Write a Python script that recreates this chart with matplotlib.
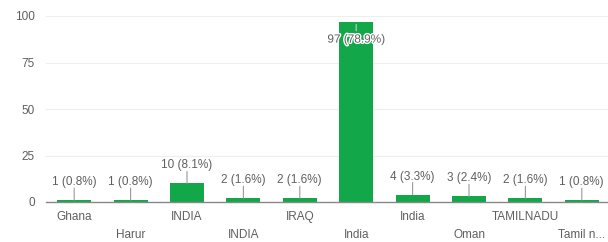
import matplotlib.pyplot as plt
import matplotlib.patheffects as pe

plt.rcParams["font.family"] = ["Liberation Sans", "DejaVu Sans"]

labels = ["Ghana", "Harur", "INDIA", "INDIA", "IRAQ", "India", "India", "Oman", "TAMILNADU", "Tamil n..."]
counts = [1, 1, 10, 2, 2, 97, 4, 3, 2, 1]
pcts = ["0.8%", "0.8%", "8.1%", "1.6%", "1.6%", "78.9%", "3.3%", "2.4%", "1.6%", "0.8%"]
yticks = [0, 25, 50, 75, 100]

green = "#12a84a"
text_c = "#5f5f5f"

fig = plt.figure(figsize=(6.08, 2.42), dpi=100)
ax = fig.add_axes([46 / 608, 1 - 202 / 242, 564 / 608, 186 / 242])

x = list(range(len(labels)))
ax.bar(x, counts, width=0.6, color=green, zorder=3)

ax.set_xlim(-0.5, len(labels) - 0.5)
ax.set_ylim(0, 100)
ax.set_yticks(yticks)
ax.set_yticklabels([str(t) for t in yticks], fontsize=8.5, color=text_c)
ax.grid(axis="y", color="#eeeeee", linewidth=0.8, zorder=0)
ax.set_xticks([])
for s in ["top", "right", "left"]:
    ax.spines[s].set_visible(False)
ax.spines["bottom"].set_color("#888888")
ax.spines["bottom"].set_linewidth(1.0)
ax.spines["bottom"].set_zorder(4)
ax.tick_params(axis="y", length=0, pad=8)

# category labels, staggered in two rows
for i, lab in enumerate(labels):
    dy = -15 if i % 2 == 0 else -33
    ax.annotate(lab, (i, 0), xytext=(0, dy), textcoords="offset pixels",
                ha="center", va="center", fontsize=8.5, color=text_c)

# value labels with leader lines
for i, (c, p) in enumerate(zip(counts, pcts)):
    txt = f"{c} ({p})"
    if c > 90:
        ax.annotate(txt, (i, c), xytext=(0, -18), textcoords="offset pixels",
                    ha="center", va="center", fontsize=8.5, color=text_c, zorder=5,
                    path_effects=[pe.withStroke(linewidth=2, foreground="white")])
        ax.annotate("", (i, c), xytext=(0, -12), textcoords="offset pixels",
                    arrowprops=dict(arrowstyle="-", color="#cccccc", lw=0.8), zorder=5)
    else:
        ax.annotate(txt, (i, c), xytext=(0, 18), textcoords="offset pixels",
                    ha="center", va="center", fontsize=8.5, color=text_c)
        ax.annotate("", (i, c), xytext=(0, 12), textcoords="offset pixels",
                    arrowprops=dict(arrowstyle="-", color="#999999", lw=0.8, shrinkA=0, shrinkB=0))

fig.savefig("out.png", dpi=100)
